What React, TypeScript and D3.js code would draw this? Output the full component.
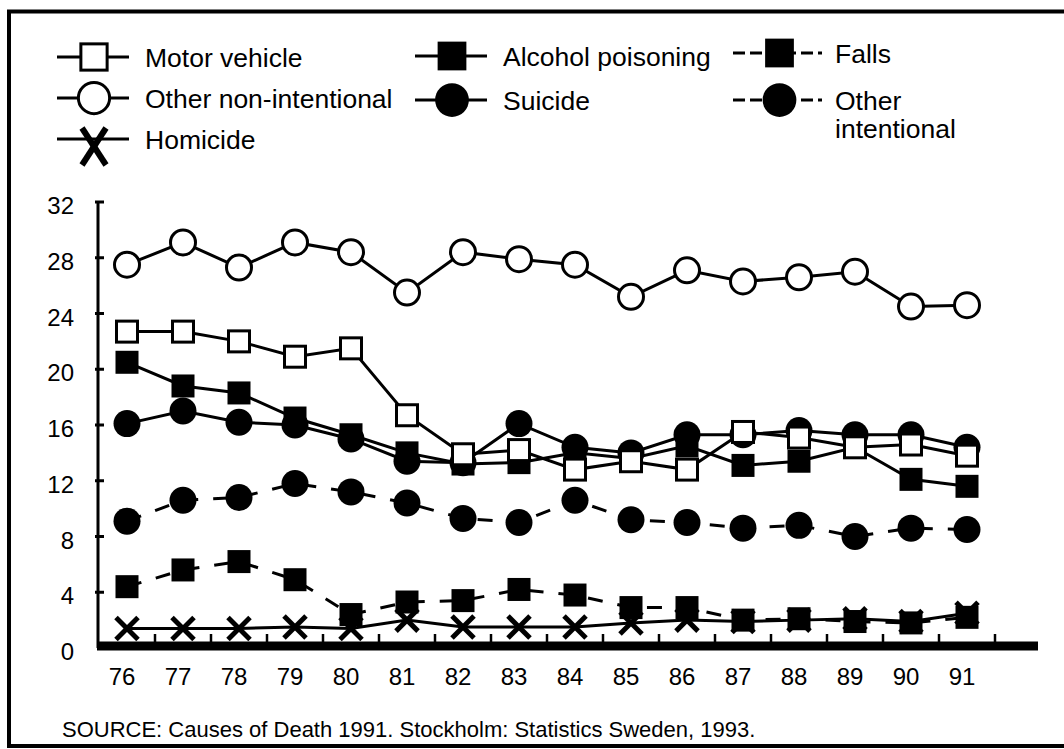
import React from 'react'
import * as d3 from 'd3'

const years = ['76', '77', '78', '79', '80', '81', '82', '83', '84', '85', '86', '87', '88', '89', '90', '91']
const yTicks = [0, 4, 8, 12, 16, 20, 24, 28, 32]

const motorVehicle = [22.7, 22.7, 22.0, 20.9, 21.5, 16.7, 13.9, 14.2, 12.8, 13.4, 12.8, 15.5, 15.1, 14.4, 14.6, 13.8]
const otherNonIntentional = [27.5, 29.1, 27.3, 29.1, 28.4, 25.5, 28.4, 27.9, 27.5, 25.2, 27.1, 26.3, 26.6, 27.0, 24.5, 24.6]
const alcoholPoisoning = [20.5, 18.8, 18.3, 16.5, 15.3, 14.0, 13.2, 13.3, 14.0, 13.6, 14.5, 13.1, 13.4, 14.4, 12.1, 11.6]
const suicide = [16.1, 17.0, 16.2, 16.0, 15.0, 13.4, 13.3, 16.1, 14.4, 14.0, 15.3, 15.3, 15.6, 15.3, 15.3, 14.4]
const otherIntentional = [9.1, 10.6, 10.8, 11.8, 11.2, 10.4, 9.3, 9.0, 10.6, 9.2, 9.0, 8.6, 8.8, 8.0, 8.6, 8.5]
const falls = [4.4, 5.6, 6.2, 4.9, 2.4, 3.3, 3.4, 4.2, 3.8, 2.9, 2.9, 2.0, 2.1, 1.9, 1.8, 2.2]
const homicide = [1.4, 1.4, 1.4, 1.5, 1.4, 2.0, 1.5, 1.5, 1.5, 1.8, 2.0, 1.9, 2.0, 2.1, 1.9, 2.5]

const source = 'SOURCE: Causes of Death 1991. Stockholm: Statistics Sweden, 1993.'

type Marker = 'openSquare' | 'openCircle' | 'square' | 'circle' | 'x'

// draw order matters: later series sit on top
const series: { name: string; values: number[]; marker: Marker; dashed: boolean }[] = [
  { name: 'Suicide', values: suicide, marker: 'circle', dashed: false },
  { name: 'Alcohol poisoning', values: alcoholPoisoning, marker: 'square', dashed: false },
  { name: 'Other intentional', values: otherIntentional, marker: 'circle', dashed: true },
  { name: 'Homicide', values: homicide, marker: 'x', dashed: false },
  { name: 'Falls', values: falls, marker: 'square', dashed: true },
  { name: 'Motor vehicle', values: motorVehicle, marker: 'openSquare', dashed: false },
  { name: 'Other non-intentional', values: otherNonIntentional, marker: 'openCircle', dashed: false },
]

const font = '"Liberation Sans", Arial, Helvetica, sans-serif'

const MarkerShape = ({ type, cx, cy, s = 1 }: { type: Marker; cx: number; cy: number; s?: number }) => {
  if (type === 'openSquare')
    return <rect x={cx - 10.5 * s} y={cy - 10.5 * s} width={21 * s} height={21 * s} fill="#fff" stroke="#000" strokeWidth={3} />
  if (type === 'square')
    return <rect x={cx - 11.5 * s} y={cy - 11.5 * s} width={23 * s} height={23 * s} fill="#000" />
  if (type === 'openCircle')
    return <circle cx={cx} cy={cy} r={12.5 * s} fill="#fff" stroke="#000" strokeWidth={3} />
  if (type === 'circle')
    return <circle cx={cx} cy={cy} r={13.5 * s} fill="#000" />
  const h = 11 * s
  return (
    <g stroke="#000" strokeWidth={5}>
      <line x1={cx - h} y1={cy - h} x2={cx + h} y2={cy + h} />
      <line x1={cx + h} y1={cy - h} x2={cx - h} y2={cy + h} />
    </g>
  )
}

const legend: { name: string[]; marker: Marker; dashed: boolean; x: number; y: number }[] = [
  { name: ['Motor vehicle'], marker: 'openSquare', dashed: false, x: 57, y: 57 },
  { name: ['Other non-intentional'], marker: 'openCircle', dashed: false, x: 57, y: 98 },
  { name: ['Homicide'], marker: 'x', dashed: false, x: 57, y: 139 },
  { name: ['Alcohol poisoning'], marker: 'square', dashed: false, x: 415, y: 56 },
  { name: ['Suicide'], marker: 'circle', dashed: false, x: 415, y: 100 },
  { name: ['Falls'], marker: 'square', dashed: true, x: 733, y: 53 },
  { name: ['Other', 'intentional'], marker: 'circle', dashed: true, x: 733, y: 100 },
]

export default function App() {
  const width = 1064
  const height = 749

  const x = d3.scalePoint<string>().domain(years).range([127, 967])
  const y = d3.scaleLinear().domain([0, 32]).range([648, 202])
  const step = x.step()

  const lineGen = d3
    .line<number>()
    .x((_, i) => x(years[i]) as number)
    .y((v) => y(v))

  return (
    <svg width={width} height={height} style={{ position: 'absolute', left: 0, top: 0, background: '#fff' }} fontFamily={font}>
      <rect x={0} y={0} width={width} height={height} fill="#fff" />
      {/* frame */}
      <g stroke="#000" strokeWidth={4} fill="none">
        <line x1={7} y1={11.5} x2={width} y2={11.5} />
        <line x1={9} y1={10} x2={9} y2={748} />
        <line x1={7} y1={746} x2={width} y2={746} />
      </g>

      {/* legend */}
      {legend.map((l) => {
        const lineLen = l.dashed ? 89 : 72
        const cx = l.x + lineLen / 2 + (l.dashed ? 2 : 1)
        const textX = l.dashed ? 835 : l.x === 57 ? 145 : 503
        return (
          <g key={l.name.join(' ')}>
            <line
              x1={l.x}
              x2={l.x + lineLen}
              y1={l.y}
              y2={l.y}
              stroke="#000"
              strokeWidth={3}
              strokeDasharray={l.dashed ? '12 5' : undefined}
            />
            {l.marker === 'x' ? (
              <g stroke="#000" strokeWidth={6}>
                <line x1={cx - 12} y1={l.y - 11} x2={cx + 12} y2={l.y + 26} />
                <line x1={cx + 12} y1={l.y - 11} x2={cx - 12} y2={l.y + 26} />
              </g>
            ) : (
              <MarkerShape type={l.marker} cx={cx} cy={l.y} s={1.25} />
            )}
            {l.name.map((t, i) => (
              <text key={t} x={textX} y={l.y + 10 + i * 28} fontSize={26.5} fill="#000">
                {t}
              </text>
            ))}
          </g>
        )
      })}

      {/* y axis */}
      <line x1={98} x2={98} y1={y(32) - 1} y2={y(0)} stroke="#000" strokeWidth={3} />
      {yTicks.map((t) => (
        <g key={t}>
          {t > 0 && <line x1={95} x2={104} y1={y(t)} y2={y(t)} stroke="#000" strokeWidth={3} />}
          <text x={74} y={y(t) + 12} fontSize={24} textAnchor="end" fill="#000">
            {t}
          </text>
        </g>
      ))}

      {/* x axis: thick baseline with minor ticks between years */}
      <line x1={97} x2={1038} y1={y(0) - 2} y2={y(0) - 2} stroke="#000" strokeWidth={9} />
      {years.map((yr) => (
        <g key={yr}>
          <line
            x1={(x(yr) as number) + step / 2}
            x2={(x(yr) as number) + step / 2}
            y1={y(0) - 14}
            y2={y(0)}
            stroke="#000"
            strokeWidth={2.5}
          />
          <text x={(x(yr) as number) - 5} y={685} fontSize={24} textAnchor="middle" fill="#000">
            {yr}
          </text>
        </g>
      ))}

      {/* series */}
      {series.map((s) => (
        <g key={s.name}>
          <path
            d={lineGen(s.values) as string}
            fill="none"
            stroke="#000"
            strokeWidth={3}
            strokeDasharray={s.dashed ? '15 15' : undefined}
          />
          {s.values.map((v, i) => (
            <MarkerShape key={i} type={s.marker} cx={x(years[i]) as number} cy={y(v)} />
          ))}
        </g>
      ))}

      <text x={62} y={737} fontSize={22} fill="#000">
        {source}
      </text>
    </svg>
  )
}
